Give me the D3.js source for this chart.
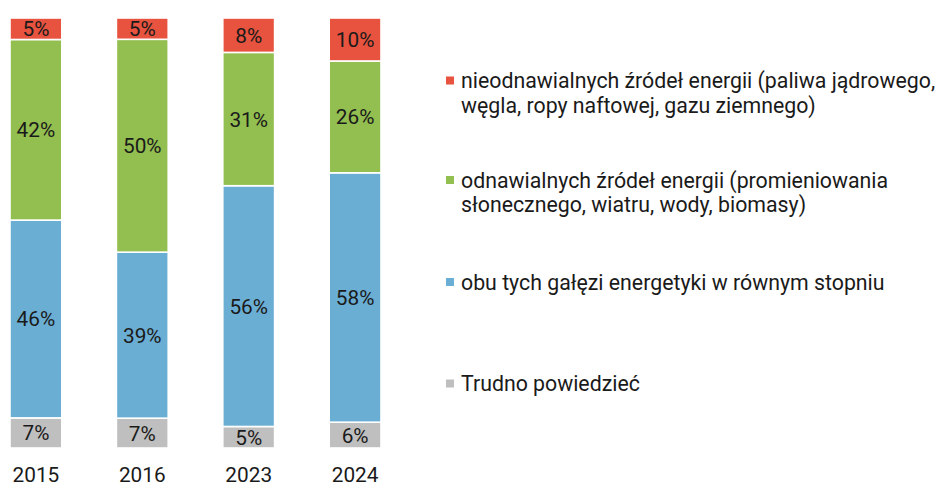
<!DOCTYPE html>
<html><head><meta charset="utf-8">
<script src="https://cdn.jsdelivr.net/npm/d3@7"></script>
<style>
html,body{margin:0;padding:0;background:#fff;}
svg{display:block;font-family:Roboto, "Noto Sans", sans-serif;}
</style></head>
<body>
<svg id="c" width="939" height="484"></svg>
<script>
const categories = ["2015", "2016", "2023", "2024"];
const seriesNames = [
  "Trudno powiedzieć",
  "obu tych gałęzi energetyki w równym stopniu",
  "odnawialnych źródeł energii (promieniowania słonecznego, wiatru, wody, biomasy)",
  "nieodnawialnych źródeł energii (paliwa jądrowego, węgla, ropy naftowej, gazu ziemnego)"
];
const trudno = [7, 7, 5, 6];
const obu = [46, 39, 56, 58];
const odnawialne = [42, 50, 31, 26];
const nieodnawialne = [5, 5, 8, 10];
const colors = ["#BFBFBF", "#6BAED3", "#93BE50", "#E7533F"];
const legendLines = [
  ["nieodnawialnych źródeł energii (paliwa jądrowego,", "węgla, ropy naftowej, gazu ziemnego)"],
  ["odnawialnych źródeł energii (promieniowania", "słonecznego, wiatru, wody, biomasy)"],
  ["obu tych gałęzi energetyki w równym stopniu"],
  ["Trudno powiedzieć"]
];
const legendColors = ["#E7533F", "#93BE50", "#6BAED3", "#BFBFBF"];

const keys = ["trudno", "obu", "odnawialne", "nieodnawialne"];
const table = categories.map((c, i) => ({
  cat: c, trudno: trudno[i], obu: obu[i], odnawialne: odnawialne[i], nieodnawialne: nieodnawialne[i]
}));
const stack = d3.stack().keys(keys).offset(d3.stackOffsetExpand);
const layers = stack(table);

const svg = d3.select("#c");
const x = d3.scaleBand().domain(categories).range([10, 381]).paddingInner(0.513).paddingOuter(0);
const y = d3.scaleLinear().domain([0, 1]).range([448, 18]);

const g = svg.append("g");
layers.forEach((layer, li) => {
  const lg = g.append("g");
  lg.selectAll("rect").data(layer).enter().append("rect")
    .attr("x", d => x(d.data.cat))
    .attr("width", x.bandwidth())
    .attr("y", d => y(d[1]))
    .attr("height", d => y(d[0]) - y(d[1]))
    .attr("fill", colors[li])
    .attr("stroke", "#fff")
    .attr("stroke-width", 1.6);
  lg.selectAll("text").data(layer).enter().append("text")
    .attr("x", d => x(d.data.cat) + x.bandwidth() / 2)
    .attr("y", d => (y(d[0]) + y(d[1])) / 2)
    .attr("dy", "0.36em")
    .attr("text-anchor", "middle")
    .attr("font-size", 20.8)
    .attr("fill", "#1a1a1a")
    .text(d => d.data[keys[li]] + "%");
});

// x axis labels
const xAxis = d3.axisBottom(x).tickSize(0).tickPadding(0);
const ax = svg.append("g").attr("transform", "translate(0,467)").call(xAxis);
ax.select(".domain").remove();
ax.selectAll("text").attr("font-size", 20.8).attr("fill", "#1a1a1a")
  .attr("font-family", "Roboto, sans-serif").attr("dy", "0.71em");

// legend
const legendBase = [88, 187.5, 289.5, 391];
const lgd = svg.append("g");
legendLines.forEach((lines, i) => {
  lgd.append("rect")
    .attr("x", 446).attr("y", legendBase[i] - 11.5)
    .attr("width", 8).attr("height", 8)
    .attr("fill", legendColors[i]);
  const t = lgd.append("text")
    .attr("x", 461).attr("y", legendBase[i])
    .attr("font-size", 21.3).attr("fill", "#1a1a1a");
  lines.forEach((ln, j) => {
    t.append("tspan").attr("x", 461).attr("y", legendBase[i] + j * 24.8).text(ln);
  });
});
</script>
</body></html>
